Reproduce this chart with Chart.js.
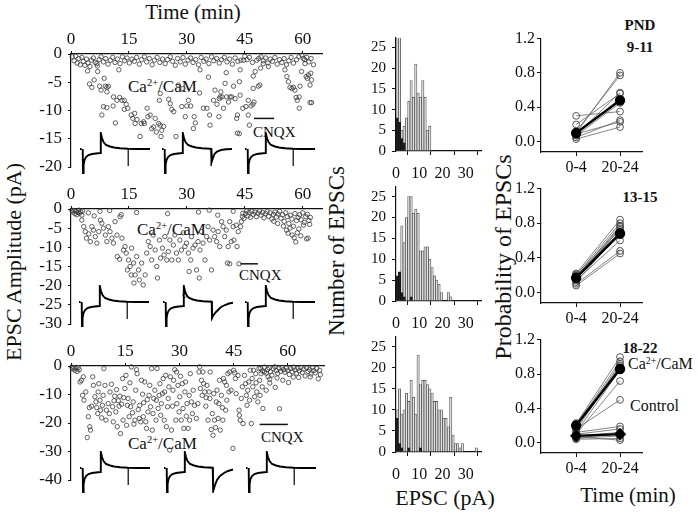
<!DOCTYPE html>
<html>
<head>
<meta charset="utf-8">
<script src="https://cdn.jsdelivr.net/npm/chart.js@4.4.0/dist/chart.umd.min.js"></script>
<style>
  body { margin: 0; background: #fff; width: 698px; height: 512px; position: relative; overflow: hidden;
         font-family: "Liberation Serif", "Times New Roman", serif; color: #111; }
  canvas { position: absolute; }
  .t { position: absolute; white-space: nowrap; line-height: 1; }
  .c { transform: translate(-50%, -50%); }
  .l { transform: translateY(-50%); }
  .rot { transform: translate(-50%, -50%) rotate(-90deg); }
  .b { font-weight: bold; }
  .sup { font-size: 0.62em; position: relative; top: -0.55em; }
</style>
</head>
<body>

<div class="t c" style="left:193px;top:12px;font-size:21px">Time (min)</div>
<div class="t rot" style="left:14px;top:262px;font-size:22px">EPSC Amplitude (pA)</div>
<div class="t l" style="left:128px;top:86px;font-size:17px">Ca<span class="sup">2+</span>/CaM</div>
<div class="t l" style="left:253px;top:132px;font-size:15px">CNQX</div>
<div class="t l" style="left:137px;top:229px;font-size:17px">Ca<span class="sup">2+</span>/CaM</div>
<div class="t l" style="left:239px;top:275px;font-size:15px">CNQX</div>
<div class="t l" style="left:128px;top:443px;font-size:17px">Ca<span class="sup">2+</span>/CaM</div>
<div class="t l" style="left:261px;top:437px;font-size:15px">CNQX</div>

<div class="t rot" style="left:336px;top:251px;font-size:23px">Number of EPSCs</div>
<div class="t c" style="left:445px;top:498px;font-size:22px">EPSC (pA)</div>

<div class="t rot" style="left:503px;top:257px;font-size:24px">Probability of EPSCs</div>
<div class="t c b" style="left:640px;top:25px;font-size:15px">PND</div>
<div class="t c b" style="left:640px;top:47px;font-size:15px">9-11</div>
<div class="t c b" style="left:640px;top:197px;font-size:15px">13-15</div>
<div class="t c b" style="left:640px;top:348px;font-size:15px">18-22</div>
<div class="t l" style="left:628px;top:364px;font-size:16px">Ca<span class="sup">2+</span>/CaM</div>
<div class="t l" style="left:630px;top:406px;font-size:16px">Control</div>
<div class="t c" style="left:628px;top:495px;font-size:21px">Time (min)</div>

<script>
// ---- scatter panels: [time (min), amplitude (pA)] ----
const p1Band = [[0.3,-0.5],[0.8,-1.2],[1.2,-0.4],[1.6,-1.6],[2.0,-0.8],[2.4,-1.9],[2.8,-0.6],[3.2,-1.3],[3.6,-2.0],[4.0,-0.9],
  [4.4,-1.6],[4.9,-2.2],[5.3,-1.1],[5.8,-0.7],[6.3,-1.5],[6.8,-2.1],[7.3,-1.0],[7.8,-0.5],[8.4,-1.4],[9.0,-0.8],[9.6,-1.8],
  [10.2,-1.1],[10.8,-0.6],[11.4,-1.5],[12.0,-0.9],[12.7,-1.7],[13.3,-0.5],[13.9,-1.2],[14.5,-0.7],[15.1,-1.6],[15.8,-0.9],
  [16.4,-1.3],[17.0,-0.6],[17.7,-1.8],[18.3,-1.0],[19.0,-0.5],[19.6,-1.4],[20.3,-0.8],[21.0,-1.9],[21.6,-1.1],[22.3,-0.6],
  [23.0,-1.5],[23.7,-0.9],[24.4,-1.7],[25.0,-1.0],[25.7,-0.5],[26.3,-1.3],[27.0,-2.0],[27.6,-0.8],[28.3,-1.4],[29.0,-0.6],
  [29.6,-1.8],[30.3,-1.1],[31.0,-0.7],[31.6,-1.5],[32.3,-1.0],[33.0,-1.9],[33.7,-0.6],[34.4,-1.3],[35.0,-0.9],[35.7,-1.7],
  [36.4,-0.5],[37.0,-1.2],[37.7,-0.8],[38.4,-1.6],[39.0,-1.0],[39.7,-0.6],[40.4,-1.4],[41.1,-0.9],[41.8,-1.8],[42.5,-0.7],
  [43.2,-1.3],[45.0,-0.4],[45.6,-1.0],[46.2,-0.6],[47.0,-1.5],[48.6,-0.8],[49.2,-0.5],[49.8,-1.2],[50.4,-0.7],[51.0,-1.6],
  [51.6,-0.9],[52.2,-1.3],[52.8,-0.6],[53.4,-1.8],[54.0,-1.0],[54.6,-1.5],[55.2,-0.8],[55.8,-1.9],[56.4,-1.2],[57.0,-0.6],
  [57.6,-1.6],[58.4,-1.0],[59.0,-0.5],[59.8,-0.2],[60.5,-1.0],[61.0,-0.6],[61.6,-1.4],[62.2,-0.8],[62.8,-1.9]];
const p1Spread = [[4.8,-5.3],[5.4,-5.9],[6.0,-4.6],[4.3,-3.0],[6.7,-1.7],[6.9,-3.1],[7.4,-5.7],[7.8,-6.4],[8.6,-4.3],[8.9,-5.7],
  [9.3,-5.9],[9.7,-5.7],[9.3,-6.7],[8.4,-9.3],[8.0,-10.8],[9.3,-9.5],[10.9,-9.2],[11.5,-12.2],[11.0,-7.6],[11.9,-8.2],
  [12.6,-7.7],[13.2,-8.2],[13.8,-8.2],[14.3,-8.9],[14.7,-9.6],[13.8,-9.8],[15.6,-10.8],[16.0,-11.4],[16.5,-10.5],[16.6,-12.3],
  [17.1,-11.6],[18.2,-12.3],[18.8,-12.0],[19.0,-12.3],[17.9,-14.6],[19.7,-9.6],[19.9,-11.1],[20.5,-10.8],[12.4,-2.8],[20.9,-13.2],
  [21.4,-12.9],[22.1,-13.8],[21.8,-11.4],[22.7,-12.3],[23.1,-12.6],[23.5,-13.5],[24.0,-12.8],[23.3,-14.6],[22.9,-8.2],[23.1,-7.0],
  [25.3,-8.0],[25.7,-8.8],[26.1,-9.8],[26.6,-10.2],[27.2,-14.6],[28.7,-9.3],[29.0,-6.1],[30.0,-9.2],[31.0,-9.2],[31.9,-11.1],
  [32.2,-12.2],[31.7,-13.2],[33.3,-6.9],[34.3,-9.6],[35.2,-9.6],[35.6,-4.1],[35.9,-10.8],[36.0,-12.6],[36.9,-8.2],[37.3,-6.4],
  [37.8,-8.9],[38.3,-11.1],[38.4,-7.9],[38.6,-7.6],[38.8,-6.7],[39.1,-7.6],[39.5,-9.6],[39.9,-5.2],[40.2,-3.3],[40.3,-7.6],
  [40.8,-8.5],[41.2,-7.6],[41.6,-7.6],[42.1,-5.7],[42.5,-7.9],[42.9,-11.4],[43.1,-10.8],[43.1,-14.0],[43.6,-14.1],[43.6,-4.9],
  [43.8,-7.3],[44.5,-9.6],[45.3,-9.3],[45.9,-10.8],[46.2,-12.6],[46.6,-9.2],[47.1,-8.9],[47.4,-8.5],[47.2,-3.9],[47.7,-3.1],
  [48.1,-1.1],[48.5,-5.7],[47.2,-6.1],[45.9,-8.2],[49.1,-2.5],[49.8,-1.7],[51.1,-2.2],[48.9,-5.5],[43.8,-2.8],[44.0,-1.1],
  [44.7,-1.1],[55.4,-2.8],[55.9,-4.0],[56.3,-4.9],[56.7,-5.9],[57.2,-6.1],[57.6,-5.9],[58.0,-6.4],[58.3,-7.7],[58.6,-8.2],
  [59.1,-9.6],[59.3,-5.7],[59.7,-3.1],[60.2,-0.8],[60.6,-1.7],[60.9,-4.0],[61.2,-4.3],[61.5,-3.7],[61.9,-5.5],[62.3,-4.6],
  [61.9,-8.6],[62.3,-8.6],[62.1,-3.4],[59.1,-7.6],[33.4,-2.8],[27.8,-5.5],[29.6,-11.1],[30.4,-8.2]];
const p1Cnqx = [[47.4,-11.4],[52.6,-11.4]];

const p2Band = [[0.2,-0.3],[0.5,-0.8],[0.8,-0.4],[1.0,-1.2],[1.3,-0.6],[1.5,-1.5],[1.8,-0.9],[2.0,-0.3],[2.2,-1.1],[2.5,-0.7],
  [2.8,-1.6],[3.0,-0.5],[4.5,-1.0],[6.0,-1.8],[7.5,-0.6],[10.0,-0.4],[13.0,-1.5],[17.0,-0.9],[25.0,-1.2],[33.0,-0.8],
  [38.0,-1.6],[42.0,-0.6],[44.8,-2.5],[45.2,-1.2],[45.5,-0.5],[45.8,-1.8],[46.1,-0.9],[46.5,-2.2],[46.8,-0.6],[47.2,-1.4],
  [47.6,-0.8],[48.0,-2.0],[48.4,-1.1],[48.8,-0.5],[49.2,-1.6],[49.6,-0.9],[50.0,-2.3],[50.4,-1.2],[50.8,-0.7],[51.2,-1.9],
  [51.6,-1.0],[52.0,-2.6],[52.4,-1.4],[52.8,-0.8],[53.2,-2.1],[53.6,-1.3],[54.0,-0.6],[54.4,-2.4],[54.8,-1.5],[55.2,-3.2],
  [55.6,-1.0],[56.0,-2.0],[56.4,-3.8],[56.8,-1.6],[57.2,-2.6],[57.6,-4.5],[58.0,-1.2],[58.4,-3.0],[58.8,-2.2],[59.2,-1.5],
  [59.6,-2.8],[60.0,-1.0],[60.4,-3.5],[60.8,-2.0],[61.2,-1.4],[61.6,-3.0],[62.0,-2.2]];
const p2Spread = [[2.8,-2.9],[3.3,-4.6],[3.7,-5.9],[4.0,-7.6],[4.6,-6.5],[5.0,-8.5],[5.4,-4.6],[5.8,-5.5],[6.3,-7.2],[6.7,-8.9],
  [7.2,-5.9],[7.6,-2.9],[8.0,-3.7],[8.4,-5.0],[8.9,-6.8],[9.3,-8.5],[9.7,-4.6],[10.1,-5.9],[10.6,-7.6],[11.0,-8.9],
  [11.4,-3.3],[11.9,-6.8],[12.0,-12.4],[12.6,-13.1],[12.7,-2.0],[13.2,-7.6],[13.6,-10.7],[14.0,-9.8],[14.3,-11.5],[14.6,-15.9],
  [14.9,-13.3],[15.3,-15.0],[15.6,-17.2],[15.7,-10.2],[16.2,-14.1],[16.3,-19.3],[16.6,-17.2],[17.0,-12.4],[17.5,-15.9],[17.7,-18.5],
  [18.3,-14.1],[18.7,-19.8],[19.2,-17.2],[19.6,-11.5],[20.0,-8.5],[20.5,-9.8],[20.9,-13.3],[21.3,-6.8],[21.8,-10.7],[22.2,-15.0],
  [22.4,-18.0],[22.9,-8.1],[23.2,-12.8],[23.7,-10.2],[24.1,-12.0],[24.3,-7.2],[24.8,-13.3],[25.2,-11.1],[25.6,-8.1],[26.1,-13.3],
  [26.5,-9.4],[26.9,-6.8],[27.3,-11.5],[27.8,-13.3],[28.2,-8.1],[28.6,-10.7],[29.1,-6.2],[29.5,-9.8],[29.9,-8.9],[30.4,-11.5],
  [30.6,-16.3],[31.0,-13.3],[31.2,-7.2],[31.6,-10.2],[32.1,-9.4],[32.5,-15.9],[32.9,-8.5],[33.2,-18.0],[33.4,-10.7],[33.8,-5.9],
  [34.2,-8.9],[34.7,-13.3],[35.1,-7.2],[35.5,-4.6],[35.8,-0.3],[35.9,-8.1],[36.4,-15.9],[36.8,-5.5],[37.2,-7.2],[37.7,-8.5],
  [38.1,-5.9],[38.5,-9.8],[39.0,-3.3],[39.4,-4.6],[39.8,-7.2],[40.2,-5.5],[40.7,-9.8],[41.1,-3.3],[41.5,-8.5],[42.0,-4.6],
  [42.2,-8.1],[42.8,-4.2],[43.0,-9.8],[43.3,-5.9],[43.5,-14.3],[43.9,-4.6],[44.1,-3.3],[44.4,-2.0],[44.5,-1.1],[40.5,-14.1],
  [41.1,-14.3],[29.5,-22.5],[55.0,-4.5],[55.8,-5.5],[56.2,-6.3],[56.7,-5.0],[57.3,-6.8],[57.8,-7.5],[58.2,-8.6],[58.6,-6.2],
  [59.0,-5.2],[59.5,-7.0],[60.2,-4.2],[61.0,-7.8],[61.4,-7.6],[61.8,-4.0],[53.5,-3.8],[52.5,-3.2]];
const p2Cnqx = [[43.9,-14.3],[48.4,-14.3]];

const p3Band = [[0.2,-0.4],[0.5,-1.0],[0.8,-0.5],[1.1,-1.5],[1.4,-0.8],[1.7,-1.9],[2.0,-0.6],[2.3,-1.3],[52.5,-0.8],[53.0,-1.8],
  [53.5,-0.4],[54.0,-2.5],[54.4,-1.2],[54.8,-0.6],[55.2,-2.0],[55.6,-3.2],[56.0,-1.0],[56.4,-0.3],[56.8,-1.6],[57.2,-2.6],
  [57.6,-0.8],[58.0,-1.9],[58.4,-0.5],[58.8,-1.3],[59.2,-2.2],[59.6,-0.7],[60.0,-1.5],[60.4,-3.0],[60.8,-0.9],[61.2,-2.0],
  [61.6,-0.4],[62.0,-1.4],[62.4,-2.6],[62.8,-0.8],[63.2,-1.7],[63.6,-0.5],[64.0,-2.3],[64.4,-1.1],[64.8,-3.5],[65.2,-0.7],
  [65.6,-1.9],[66.0,-1.2],[66.4,-2.8],[66.8,-0.6],[67.2,-1.6],[67.6,-2.4],[68.0,-0.9],[68.4,-4.5],[68.8,-1.5],[69.0,-3.0],
  [57.0,-4.2],[58.6,-5.0],[55.0,-4.6],[60.2,-5.8],[63.0,-4.0],[66.2,-3.8],[61.5,-3.9],[57.7,-15.0],[56.5,-7.5],[55.0,-6.0]];
const p3Spread = [[2.5,-5.6],[2.9,-5.0],[3.4,-3.8],[3.2,-10.3],[3.6,-12.0],[4.1,-9.1],[4.5,-25.1],[4.8,-17.8],[5.1,-14.6],[5.2,-21.3],
  [5.4,-22.5],[5.7,-14.1],[6.0,-3.8],[6.2,-6.8],[6.6,-10.8],[6.9,-12.6],[7.1,-14.6],[7.4,-16.7],[7.5,-9.1],[7.7,-6.2],
  [8.0,-12.0],[8.2,-15.5],[8.5,-18.2],[8.7,-13.8],[8.9,-10.3],[9.1,-0.9],[9.4,-6.8],[9.7,-19.0],[9.8,-15.5],[10.3,-13.2],
  [10.6,-16.7],[10.8,-9.1],[11.2,-6.4],[11.5,-14.3],[11.7,-19.6],[11.9,-12.2],[12.1,-10.6],[12.4,-16.1],[12.6,-8.3],[12.8,-21.3],
  [13.1,-12.2],[13.3,-14.1],[13.5,-10.6],[13.7,-23.7],[14.0,-13.4],[14.3,-4.4],[14.4,-19.0],[14.6,-11.1],[14.9,-7.9],[15.2,-3.3],
  [15.4,-20.8],[15.6,-13.8],[15.8,-11.4],[16.1,-17.8],[16.3,-5.9],[16.5,-14.3],[16.7,-0.3],[17.0,-16.4],[17.2,-12.6],[17.4,-20.4],
  [17.7,-19.0],[17.9,-8.5],[18.1,-1.3],[18.3,-2.7],[18.6,-15.3],[18.9,-18.4],[19.0,-13.8],[19.3,-19.6],[19.5,-5.0],[19.8,-9.9],
  [20.0,-17.8],[20.1,-12.9],[20.4,-5.6],[20.7,-19.6],[20.9,-21.9],[21.1,-11.8],[21.3,-16.1],[21.6,-10.3],[21.8,-6.8],[22.0,-14.3],
  [22.3,-0.9],[22.5,-22.5],[22.7,-16.7],[22.9,-11.4],[23.2,-8.5],[23.5,-19.0],[23.6,-12.0],[23.8,-0.9],[24.1,-14.9],[24.4,-10.3],
  [24.6,-6.2],[24.8,-17.3],[25.0,-13.2],[25.3,-9.7],[25.5,-4.4],[25.8,-19.0],[25.9,-9.1],[26.2,-3.3],[26.4,-21.3],[26.7,-14.3],
  [26.9,-11.4],[27.1,-7.3],[27.3,-29.5],[27.5,-3.8],[27.8,-22.5],[28.1,-14.1],[28.2,-8.5],[28.4,-5.0],[28.7,-1.3],[29.0,-19.0],
  [29.2,-2.1],[29.3,-13.2],[29.6,-6.8],[29.9,-16.1],[30.1,-10.8],[30.3,-3.6],[30.5,-19.0],[30.8,-6.2],[31.0,-14.9],[31.2,-21.9],
  [31.5,-9.1],[31.7,-5.6],[31.9,-17.6],[32.1,-13.2],[32.4,-21.9],[32.7,-10.3],[32.8,-19.0],[33.0,-2.7],[33.3,-12.6],[33.6,-16.7],
  [33.8,-8.5],[34.2,-13.8],[34.7,-18.4],[35.1,-13.2],[35.4,-2.1],[35.6,-0.3],[35.8,-7.9],[36.1,-5.0],[36.3,-10.3],[36.5,-2.1],
  [36.7,-6.2],[37.0,-9.1],[37.3,-14.1],[37.4,-11.1],[37.6,-6.8],[37.9,-19.0],[38.2,-9.1],[38.4,-11.4],[38.5,-2.1],[38.8,-22.3],
  [39.1,-16.7],[39.3,-24.3],[39.5,-9.7],[39.7,-19.0],[40.0,-21.6],[40.2,-12.6],[40.4,-8.5],[40.7,-18.4],[40.9,-13.2],[41.1,-5.0],
  [41.3,-22.5],[41.6,-10.3],[41.9,-14.6],[42.0,-19.0],[42.2,-4.4],[42.5,-5.6],[42.8,-15.5],[43.0,-6.8],[43.1,-12.0],[43.4,-2.7],
  [43.7,-9.1],[43.9,-2.1],[44.3,-8.5],[44.8,-28.9],[45.0,-1.5],[45.3,-2.4],[45.5,-4.4],[45.7,-9.7],[46.2,-3.3],[46.5,-15.5],
  [46.6,-17.3],[46.8,-19.0],[47.1,-11.4],[47.4,-7.3],[47.6,-20.2],[48.0,-3.3],[48.3,-6.2],[48.5,-10.3],[48.7,-13.8],[48.9,-8.5],
  [49.2,-5.6],[49.4,-12.0],[49.6,-1.5],[49.9,-20.2],[50.1,-4.4],[50.3,-7.3],[50.5,-1.5],[50.8,-10.8],[51.1,-2.7],[51.2,-5.9],
  [51.4,-9.1],[51.7,-12.6],[52.0,-0.9],[52.2,-5.0],[52.3,-10.3],[52.6,-2.7],[52.9,-7.3],[53.1,-14.9],[53.5,-2.1],[54.0,-8.5],[54.5,-3.8]];
const p3Cnqx = [[52.2,-20.5],[60.0,-20.5]];

// ---- sample EPSC traces (time in trace units, current in screen units) ----
const traceA = [[0,0],[1.5,0],[2,null],[2.7,0],[3,-24],[3.6,-16],[4.5,-11],[6,-8],[8.5,-6],[12,-5],[16,-4.5],[20.5,-4],
  [20.8,16],[22,11],[23.5,7],[26,4],[30,2.5],[34,1.5],[40,0.8],[48,0.3],[56,0],[70,0]];
const traceB1 = [[0,0],[1.5,0],[2,null],[2.7,0],[3,-24],[3.6,-16],[4.5,-11],[6,-8],[8.5,-6],[12,-5],[16,-4.5],[20.5,-4],
  [20.8,16],[22,11],[23.5,7],[26,4],[30,2.5],[34,1.5],[40,0.8],[48,0.3],[49.4,0],[50,-12],[51,-9],
  [52.5,-5],[55,-2.5],[59,-1],[64,-0.3],[70,0]];
const traceB2 = [[0,0],[1.5,0],[2,null],[2.7,0],[3,-24],[3.6,-16],[4.5,-11],[6,-8],[8.5,-6],[12,-5],[16,-4.5],[20.5,-4],
  [20.8,16],[22,11],[23.5,7],[26,4],[30,2.5],[34,1.5],[40,0.8],[48.7,0.3],[49,-16],[50,-14],[52,-11],[55,-8],[58,-5],
  [62,-3],[66,-1.5],[70,-0.8]];
const traceB3 = [[0,0],[1.5,0],[2,null],[2.7,0],[3,-24],[3.6,-16],[4.5,-11],[6,-8],[8.5,-6],[12,-5],[16,-4.5],[20.5,-4],
  [20.8,16],[22,11],[23.5,7],[26,4],[30,2.5],[34,1.5],[40,0.8],[48.7,0.3],[49.2,-23],[51,-17],[53,-12],[56,-8],[60,-5],
  [64,-3],[69,-1.5]];
const artifactA = [[48.3,0.3],[48.3,-17]];
const artifactB = [[49.2,0.3],[49.2,-17]];

// ---- histograms: counts per 1 pA bin, index = lower bin edge ----
const h1Light = [30,30,5,6,8,12,17,13,21,14,13,17,13,5,6];
const h1Dark  = [8,7,3,2];
const h2Light = [3,5,18,14,20,25,25,21,22,21,12,12,13,13,10,8,6,5,4,2,0,0,2,1];
const h2Dark  = [6,7,2,1,0,0,1];
const h3Light = [10,15,9,10,14,12,17,13,9,23,16,17,17,16,15,14,12,12,10,10,8,8,6,13,4,2,2,1,2,0,0,0,0,0,1];
const h3Dark  = [8,2,1,0,0,1,0,0,0,0,1];
const histTicks = [0, 10, 20, 30];

// ---- probability panels: [0-4 min, 20-24 min] ----
const r1Pairs = [[0.30,0.35],[0.20,0.56],[0.10,0.80],[0.12,0.77],[0.08,0.57],[0.10,0.50],[0.07,0.45],[0.05,0.25],[0.09,0.23],[0.03,0.17],[0.11,0.47]];
const r1Mean = [0.10,0.48];
const r2Pairs = [[0.22,0.84],[0.20,0.80],[0.18,0.77],[0.15,0.74],[0.21,0.72],[0.12,0.70],[0.17,0.66],[0.14,0.60],[0.10,0.48],[0.08,0.45],[0.19,0.70],[0.16,0.76]];
const r2Mean = [0.17,0.68];
const r3CaPairs = [[0.22,1.00],[0.20,0.95],[0.18,0.92],[0.15,0.90],[0.23,0.88],[0.12,0.85],[0.10,0.72],[0.16,0.50]];
const r3CaMean = [0.20,0.86];
const r3CtlPairs = [[0.12,0.19],[0.10,0.16],[0.08,0.12],[0.06,0.10],[0.05,0.08],[0.04,0.05],[0.07,0.03]];
const r3CtlMean = [0.08,0.10];
const probTicks = [0, 0.4, 0.8, 1.2];
const timeLabels = ['0-4', '20-24'];

const INK = '#111';
Chart.defaults.font.family = "'Liberation Serif', 'Times New Roman', serif";
Chart.defaults.color = INK;

function addCanvas(area, m) {
  const c = document.createElement('canvas');
  const w = area.r - area.l + m.l + m.r, h = area.b - area.t + m.t + m.b;
  c.width = w; c.height = h;
  c.style.left = (area.l - m.l) + 'px';
  c.style.top = (area.t - m.t) + 'px';
  document.body.appendChild(c);
  return c;
}

// force an axis to a fixed size and drop Chart.js edge padding
function fix(size, horizontal) {
  return (s) => {
    if (horizontal) s.height = size; else s.width = size;
    s.paddingLeft = s.paddingRight = s.paddingTop = s.paddingBottom = 0;
  };
}

function axis(size, horizontal, vals, fmt, font, tick, pad, extra) {
  return Object.assign({
    afterBuildTicks: (s) => { s.ticks = vals.map((v) => ({value: v})); },
    afterFit: fix(size, horizontal),
    grid: {display: true, drawOnChartArea: false, tickLength: tick, color: INK, lineWidth: 1},
    border: {display: true, color: INK, width: 1.2},
    ticks: {color: INK, font: {size: font}, padding: pad, maxRotation: 0, autoSkip: false, callback: fmt},
  }, extra);
}

function baseOptions(m, scales) {
  return {
    responsive: false, animation: false, devicePixelRatio: 1, events: [],
    layout: {padding: m},
    plugins: {legend: {display: false}, tooltip: {enabled: false}},
    scales: scales,
  };
}

function scatterPanel(area, pts, cnqx, xmax, ymin, yvals) {
  const m = {l: 48, t: 26, r: 10, b: 6};
  new Chart(addCanvas(area, m), {
    type: 'scatter',
    data: {datasets: [
      {data: cnqx, showLine: true, borderColor: INK, borderWidth: 1.5, pointRadius: 0, clip: false},
      {data: pts, pointRadius: 2.2, pointBorderWidth: 0.8, pointBorderColor: '#3a3a3a',
       pointBackgroundColor: 'rgba(255,255,255,0)', clip: false},
    ]},
    options: baseOptions({left: 0, top: 0, right: m.r, bottom: m.b}, {
      x: axis(m.t, true, [0, 15, 30, 45, 60], (v) => String(v), 17, 3, 1,
              {type: 'linear', position: 'top', min: 0, max: xmax}),
      y: axis(m.l, false, yvals, (v) => String(v), 17, 3, 6,
              {type: 'linear', min: ymin, max: 0}),
    }),
  });
}

function tracePanel(left, baseline, pts, spike) {
  const area = {l: left, t: baseline - 17, r: left + 70, b: baseline + 25};
  const sets = [{data: pts, borderColor: '#000', borderWidth: 1.9, pointRadius: 0, tension: 0, spanGaps: false, clip: false}];
  if (spike) sets.push({data: spike, borderColor: '#333', borderWidth: 1, pointRadius: 0, clip: false});
  new Chart(addCanvas(area, {l: 0, t: 0, r: 0, b: 0}), {
    type: 'line',
    data: {datasets: sets},
    options: baseOptions({left: 0, top: 0, right: 0, bottom: 0}, {
      x: {type: 'linear', display: false, min: 0, max: 70},
      y: {type: 'linear', display: false, min: -25, max: 17},
    }),
  });
}

function bins(counts) {
  return counts.map((y, i) => ({x: i + 0.5, y: y})).filter((p) => p.y > 0);
}

function histPanel(area, light, dark) {
  const m = {l: 34, t: 4, r: 8, b: 30};
  const bar = {grouped: false, barPercentage: 1, categoryPercentage: 1};
  new Chart(addCanvas(area, m), {
    type: 'bar',
    data: {datasets: [
      Object.assign({data: bins(dark), backgroundColor: '#1e1e1e', borderColor: '#111', borderWidth: 0.6}, bar),
      Object.assign({data: bins(light), backgroundColor: '#e3e3e3', borderColor: '#555', borderWidth: 0.8}, bar),
    ]},
    options: baseOptions({left: 0, top: m.t, right: m.r, bottom: 0}, {
      x: axis(m.b, true, histTicks, (v) => String(v), 16, 4, 9,
              {type: 'linear', min: 0, max: 36.5, offset: false}),
      y: axis(m.l, false, [0, 5, 10, 15, 20, 25], (v) => String(v), 15, 4, 6,
              {type: 'linear', min: 0, max: 27.3}),
    }),
  });
}

function pairSet(p) {
  return {data: [{x: 0, y: p[0]}, {x: 1, y: p[1]}], showLine: true, borderColor: '#666', borderWidth: 0.8,
          pointRadius: 3.4, pointBorderWidth: 0.9, pointBorderColor: '#444',
          pointBackgroundColor: 'rgba(255,255,255,0)', clip: false};
}
function meanSet(p, style) {
  return {data: [{x: 0, y: p[0]}, {x: 1, y: p[1]}], showLine: true, borderColor: '#000', borderWidth: 2.4,
          pointStyle: style, pointRadius: style === 'rectRot' ? 4.5 : 4, pointBackgroundColor: '#000',
          pointBorderColor: '#000', clip: false};
}

function probPanel(area, groups) {
  const m = {l: 40, t: 6, r: 10, b: 26};
  const sets = [];
  groups.forEach((g) => sets.push(meanSet(g.mean, g.style)));
  groups.forEach((g) => g.pairs.forEach((p) => sets.push(pairSet(p))));
  new Chart(addCanvas(area, m), {
    type: 'scatter',
    data: {datasets: sets},
    options: baseOptions({left: 0, top: m.t, right: m.r, bottom: 0}, {
      x: axis(m.b, true, [0, 1], (v) => timeLabels[v], 16, 4, 2,
              {type: 'linear', min: -0.8, max: 1.5}),
      y: axis(m.l, false, probTicks, (v) => v.toFixed(1), 16, 4, 2,
              {type: 'linear', min: -0.12, max: 1.2}),
    }),
  });
}

scatterPanel({l: 71, t: 54, r: 322, b: 167}, p1Band.concat(p1Spread), p1Cnqx, 65, -20, [-20, -15, -10, -5, 0]);
scatterPanel({l: 71, t: 209, r: 322, b: 324}, p2Band.concat(p2Spread), p2Cnqx, 65, -30, [-30, -25, -20, -15, -10, -5, 0]);
scatterPanel({l: 71, t: 366, r: 324, b: 480}, p3Band.concat(p3Spread), p3Cnqx, 70, -40, [-40, -30, -20, -10, 0]);

tracePanel(80, 149, traceA, artifactA);  tracePanel(162, 149, traceB1, artifactB); tracePanel(245, 149, traceA, artifactA);
tracePanel(79, 302, traceA, artifactA);  tracePanel(163, 302, traceB2, artifactB); tracePanel(245, 302, traceA, artifactA);
tracePanel(80, 468, traceA, artifactA);  tracePanel(164, 468, traceB3, artifactB); tracePanel(246, 468, traceA, artifactA);

histPanel({l: 396, t: 38, r: 481, b: 151}, h1Light, h1Dark);
histPanel({l: 396, t: 187, r: 481, b: 301}, h2Light, h2Dark);
histPanel({l: 396, t: 337, r: 481, b: 452}, h3Light, h3Dark);

probPanel({l: 541, t: 38, r: 642, b: 152}, [{pairs: r1Pairs, mean: r1Mean, style: 'circle'}]);
probPanel({l: 541, t: 188, r: 642, b: 303}, [{pairs: r2Pairs, mean: r2Mean, style: 'circle'}]);
probPanel({l: 541, t: 339, r: 642, b: 453}, [{pairs: r3CaPairs, mean: r3CaMean, style: 'circle'},
                                             {pairs: r3CtlPairs, mean: r3CtlMean, style: 'rectRot'}]);
</script>
</body>
</html>
